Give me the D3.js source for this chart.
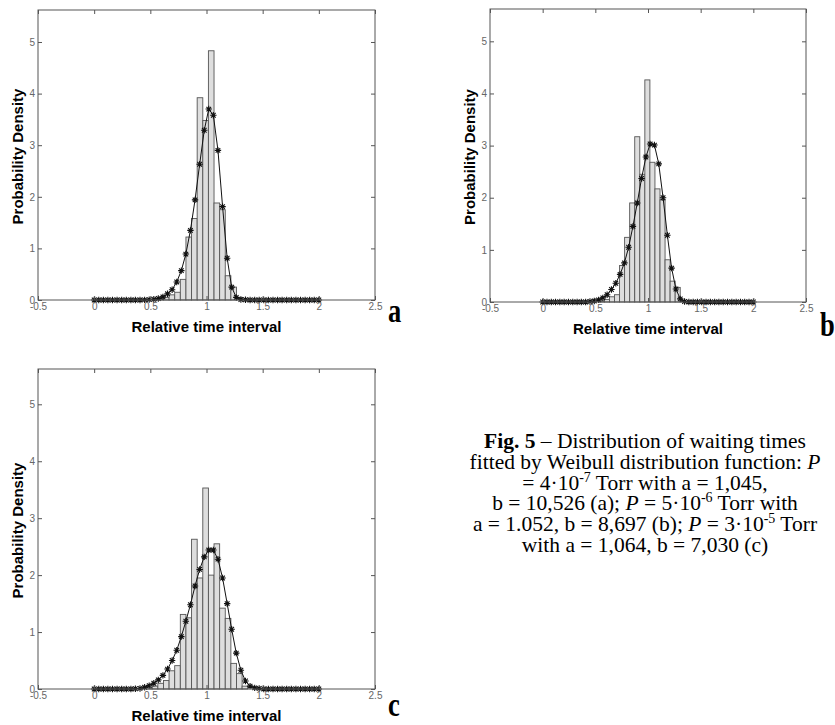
<!DOCTYPE html>
<html>
<head>
<meta charset="utf-8">
<script src="https://cdn.jsdelivr.net/npm/d3@7"></script>
<style>
  body { margin: 0; background: #fff; }
  svg { display: block; }
</style>
</head>
<body>
<div class="fig"></div>
<script>
// tick values shared by the three panels
var xTicks = [-0.5, 0, 0.5, 1, 1.5, 2, 2.5];
var yTicks = [0, 1, 2, 3, 4, 5];

// sample points of the fitted Weibull curve (same for all panels)
var fitX = [0, 0.041, 0.082, 0.122, 0.163, 0.204, 0.245, 0.286, 0.327, 0.367,
  0.408, 0.449, 0.490, 0.531, 0.571, 0.612, 0.653, 0.694, 0.735, 0.776,
  0.816, 0.857, 0.898, 0.939, 0.980, 1.020, 1.061, 1.102, 1.143, 1.184,
  1.224, 1.265, 1.306, 1.347, 1.388, 1.429, 1.469, 1.510, 1.551, 1.592,
  1.633, 1.673, 1.714, 1.755, 1.796, 1.837, 1.878, 1.918, 1.959, 2.000];

// panel a
var binsA = [0.567, 0.617, 0.667, 0.717, 0.767, 0.817, 0.867, 0.917, 0.967,
  1.017, 1.067, 1.117, 1.167, 1.217, 1.267, 1.317, 1.367];
var histA = [0.02, 0.05, 0.1, 0.15, 0.4, 1.22, 1.58, 3.92, 3.48, 4.83, 1.88,
  1.75, 0.47, 0.25, 0.05, 0.02, 0.01];
var fitA = [0, 0, 0, 0, 0, 0, 0, 0, 0, 0,
  0, 0.003, 0.008, 0.015, 0.03, 0.06, 0.12, 0.2, 0.35, 0.57,
  0.89, 1.35, 1.94, 2.63, 3.29, 3.70, 3.58, 2.90, 1.81, 0.81,
  0.25, 0.05, 0.01, 0.005, 0, 0, 0, 0, 0, 0,
  0, 0, 0, 0, 0, 0, 0, 0, 0, 0];

// panel b
var binsB = [0.538, 0.586, 0.634, 0.682, 0.730, 0.778, 0.826, 0.874, 0.922,
  0.970, 1.018, 1.066, 1.114, 1.162, 1.210, 1.258, 1.306];
var histB = [0.02, 0.05, 0.1, 0.14, 0.7, 1.24, 1.9, 3.17, 2.45, 4.26, 2.68,
  2.17, 1.96, 0.81, 0.4, 0.28, 0.02];
var fitB = [0, 0, 0, 0, 0, 0, 0, 0, 0, 0,
  0, 0.01, 0.02, 0.04, 0.08, 0.14, 0.24, 0.36, 0.53, 0.75,
  1.05, 1.45, 1.9, 2.37, 2.78, 3.03, 3.01, 2.65, 2.0, 1.28,
  0.65, 0.25, 0.06, 0.01, 0, 0, 0, 0, 0, 0,
  0, 0, 0, 0, 0, 0, 0, 0, 0, 0];

// panel c
var binsC = [0.467, 0.517, 0.567, 0.617, 0.667, 0.717, 0.767, 0.817, 0.867,
  0.917, 0.967, 1.017, 1.067, 1.117, 1.167, 1.217, 1.267, 1.317];
var histC = [0.03, 0.05, 0.1, 0.15, 0.32, 0.41, 1.31, 1.25, 2.63, 1.95, 3.53,
  2.0, 2.55, 1.42, 1.24, 0.45, 0.27, 0.05];
var fitC = [0, 0, 0, 0, 0, 0, 0, 0, 0, 0.005,
  0.01, 0.03, 0.06, 0.1, 0.16, 0.24, 0.35, 0.5, 0.68, 0.92,
  1.19, 1.48, 1.81, 2.1, 2.32, 2.44, 2.44, 2.28, 1.95, 1.5,
  1.05, 0.63, 0.33, 0.14, 0.05, 0.02, 0.01, 0, 0, 0,
  0, 0, 0, 0, 0, 0, 0, 0, 0, 0];

var captionLines = [
  [["Fig. 5", "b"], [" – Distribution of waiting times", ""]],
  [["fitted by Weibull distribution function: ", ""], ["P", "i"]],
  [["= 4·10", ""], ["-7", "sup"], [" Torr with a = 1,045,", ""]],
  [["b = 10,526 (a);  ", ""], ["P", "i"], [" = 5·10", ""], ["-6", "sup"], [" Torr with", ""]],
  [["a = 1.052, b = 8,697 (b); ", ""], ["P", "i"], [" = 3·10", ""], ["-5", "sup"], [" Torr", ""]],
  [["with a = 1,064, b = 7,030 (c)", ""]]
];

var width = 835, height = 725;

var svg = d3.select(".fig")
  .append("svg")
  .attr("width", width)
  .attr("height", height);

svg.append("rect").attr("width", width).attr("height", height).attr("fill", "#fff");

function star(r) {
  var d = r * 0.72;
  return "M0," + (-r) + "L0," + r + "M" + (-r) + ",0L" + r + ",0" +
    "M" + (-d) + "," + (-d) + "L" + d + "," + d + "M" + (-d) + "," + d + "L" + d + "," + (-d);
}

function panel(p) {
  var x = d3.scaleLinear().domain([-0.5, 2.5]).range([p.left, p.right]);
  var y = d3.scaleLinear().domain([0, 5.62]).range([p.bottom, p.top]);
  var g = svg.append("g");

  // histogram bars
  g.selectAll("rect.bar")
    .data(p.hist)
    .enter()
    .append("rect")
    .attr("class", "bar")
    .attr("x", function (d, i) { return x(p.bins[i]); })
    .attr("width", function (d, i) { return x(p.bins[i] + p.bw) - x(p.bins[i]); })
    .attr("y", function (d) { return y(d); })
    .attr("height", function (d) { return y(0) - y(d); })
    .attr("fill", "#dedede")
    .attr("stroke", "#555")
    .attr("stroke-width", 0.9);

  // fitted curve
  var pts = fitX.map(function (v, i) { return { x: v, y: p.fit[i] }; });
  var line = d3.line()
    .x(function (d) { return x(d.x); })
    .y(function (d) { return y(d.y); });
  g.append("path")
    .datum(pts)
    .attr("d", line)
    .attr("fill", "none")
    .attr("stroke", "#111")
    .attr("stroke-width", 1);

  g.selectAll("path.mk")
    .data(pts)
    .enter()
    .append("path")
    .attr("class", "mk")
    .attr("transform", function (d) { return "translate(" + x(d.x) + "," + y(d.y) + ")"; })
    .attr("d", star(3.2))
    .attr("stroke", "#111")
    .attr("stroke-width", 1.1)
    .attr("fill", "none");

  // box
  g.append("rect")
    .attr("x", p.left).attr("y", p.top)
    .attr("width", p.right - p.left).attr("height", p.bottom - p.top)
    .attr("fill", "none")
    .attr("stroke", "#555")
    .attr("stroke-width", 1);

  var fmt = function (d) { return String(d); };
  var axes = [
    { ax: d3.axisBottom(x).tickValues(xTicks).tickFormat(fmt), t: "translate(0," + p.bottom + ")" },
    { ax: d3.axisTop(x).tickValues(xTicks), t: "translate(0," + p.top + ")", bare: true },
    { ax: d3.axisLeft(y).tickValues(yTicks).tickFormat(fmt), t: "translate(" + p.left + ",0)" },
    { ax: d3.axisRight(y).tickValues(yTicks), t: "translate(" + p.right + ",0)", bare: true }
  ];
  axes.forEach(function (a) {
    var ag = g.append("g")
      .attr("transform", a.t)
      .call(a.ax.tickSizeInner(-4).tickSizeOuter(0).tickPadding(3));
    ag.select(".domain").remove();
    ag.selectAll("line").attr("stroke", "#555");
    if (a.bare) { ag.selectAll("text").remove(); return; }
    ag.selectAll("text")
      .attr("fill", "#666")
      .style("font-family", "Liberation Sans, Arial, sans-serif")
      .style("font-size", "10px");
  });

  // axis titles
  g.append("text")
    .attr("x", (p.left + p.right) / 2)
    .attr("y", p.bottom + 32)
    .attr("text-anchor", "middle")
    .style("font-family", "Liberation Sans, Arial, sans-serif")
    .style("font-weight", "bold")
    .style("font-size", "15px")
    .text("Relative time interval");

  g.append("text")
    .attr("transform", "translate(" + (p.left - 15) + "," + ((p.top + p.bottom) / 2 + 1.5) + ") rotate(-90)")
    .attr("text-anchor", "middle")
    .style("font-family", "Liberation Sans, Arial, sans-serif")
    .style("font-weight", "bold")
    .style("font-size", "15px")
    .text("Probability Density");

  // panel letter
  g.append("text")
    .attr("transform", "translate(" + p.lx + "," + p.ly + ") scale(0.78,1)")
    .style("font-family", "Liberation Serif, Times New Roman, serif")
    .style("font-weight", "bold")
    .style("font-size", "34px")
    .text(p.letter);
}

panel({ left: 38, right: 375, top: 10, bottom: 300, bins: binsA, bw: 0.05, hist: histA, fit: fitA, letter: "a", lx: 388, ly: 322 });
panel({ left: 490, right: 806, top: 9, bottom: 302, bins: binsB, bw: 0.048, hist: histB, fit: fitB, letter: "b", lx: 820, ly: 336 });
panel({ left: 38, right: 375, top: 369, bottom: 689, bins: binsC, bw: 0.05, hist: histC, fit: fitC, letter: "c", lx: 388, ly: 716 });

// caption
var cap = svg.append("g")
  .style("font-family", "Liberation Serif, Times New Roman, serif")
  .style("font-size", "21.5px")
  .style("white-space", "pre");

captionLines.forEach(function (segs, li) {
  var t = cap.append("text")
    .attr("x", 645)
    .attr("y", 448 + li * 20.8)
    .attr("text-anchor", "middle");
  var shift = 0;
  segs.forEach(function (s) {
    var ts = t.append("tspan").text(s[0]);
    var want = s[1] === "sup" ? -8 : 0;
    if (want !== shift) { ts.attr("dy", want - shift); shift = want; }
    if (s[1] === "b") ts.style("font-weight", "bold");
    if (s[1] === "i") ts.style("font-style", "italic");
    if (s[1] === "sup") ts.style("font-size", "14px");
  });
});
</script>
</body>
</html>
